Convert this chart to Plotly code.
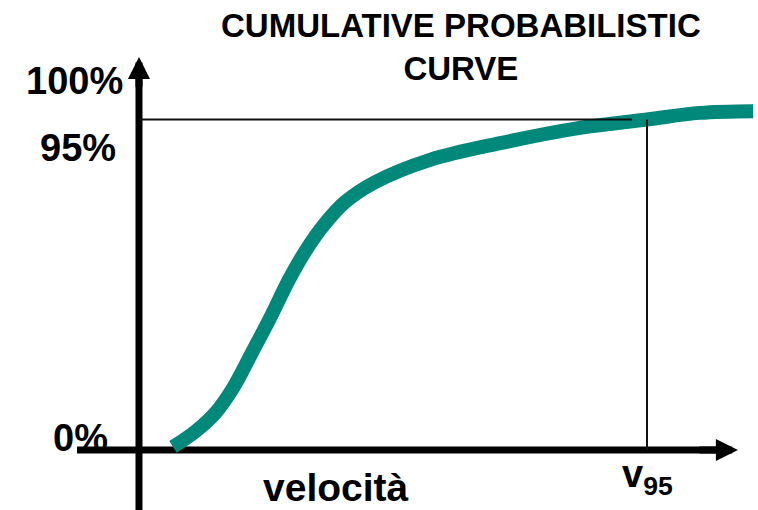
import plotly.graph_objects as go

# Cumulative probability of velocity (velocity in arbitrary units, v95 = 10)
velocity = [0.67, 1.10, 1.50, 1.85, 2.22, 2.60, 2.95, 3.29, 3.64, 4.06,
            4.65, 5.73, 7.11, 8.68, 10.0, 11.04, 12.09]
cum_prob = [0.9, 5.2, 10.6, 17.8, 27.9, 38.5, 48.9, 57.5, 64.7, 71.3,
            77.0, 83.4, 88.2, 92.6, 95.0, 96.9, 97.4]

v95 = 10.0
p95 = 95.0
level_values = [100, 95, 0]
level_labels = ["100%", "95%", "0%"]
x_label = "velocità"
v95_label = "v<sub>95</sub>"
title_text = "CUMULATIVE PROBABILISTIC<br>CURVE"

X_RANGE = [-2.736, 12.185]
Y_RANGE = [-17.25, 129.35]
FONT = "Liberation Sans, Arial, sans-serif"
TEAL = "#00897A"

fig = go.Figure()

# axis shafts (drawn first so the curve sits on top of them)
fig.add_trace(go.Scatter(x=[-1.22, 11.6], y=[0, 0], mode="lines",
                         line=dict(color="black", width=7), hoverinfo="skip"))
fig.add_trace(go.Scatter(x=[0, 0], y=[Y_RANGE[0] - 2, 110], mode="lines",
                         line=dict(color="black", width=7), hoverinfo="skip"))

# cumulative curve
fig.add_trace(go.Scatter(x=velocity, y=cum_prob, mode="lines",
                         line=dict(color=TEAL, width=14, shape="spline"),
                         hoverinfo="skip"))

# 95% reference lines
fig.add_trace(go.Scatter(x=[0, 9.7], y=[p95, p95], mode="lines",
                         line=dict(color="#111111", width=2), hoverinfo="skip"))
fig.add_trace(go.Scatter(x=[v95, v95], y=[p95, 0], mode="lines",
                         line=dict(color="#111111", width=2), hoverinfo="skip"))

# arrow heads
fig.add_annotation(x=11.79, y=0, ax=11.0, ay=0, xref="x", yref="y",
                   axref="x", ayref="y", text="", showarrow=True,
                   arrowhead=2, arrowwidth=7, arrowsize=0.63, arrowcolor="black")
fig.add_annotation(x=0, y=113, ax=0, ay=104, xref="x", yref="y",
                   axref="x", ayref="y", text="", showarrow=True,
                   arrowhead=2, arrowwidth=7, arrowsize=0.63, arrowcolor="black")

# level labels on the vertical axis
label_offsets = {"100%": (-14, 21), "95%": (-21, -28), "0%": (-29, 12)}
for val, lab in zip(level_values, level_labels):
    dx, dy = label_offsets[lab]
    fig.add_annotation(x=0, y=val, xref="x", yref="y", text=lab,
                       showarrow=False, xanchor="right", yanchor="middle",
                       xshift=dx, yshift=dy,
                       font=dict(family=FONT, size=38, color="black", weight="bold"))

# horizontal axis labels
fig.add_annotation(x=3.88, y=0, xref="x", yref="y", text=x_label,
                   showarrow=False, xanchor="center", yanchor="middle",
                   yshift=-38,
                   font=dict(family=FONT, size=39, color="black", weight="bold"))
fig.add_annotation(x=v95, y=0, xref="x", yref="y", text=v95_label,
                   showarrow=False, xanchor="center", yanchor="middle",
                   yshift=-27,
                   font=dict(family=FONT, size=38, color="black", weight="bold"))

# chart title
fig.add_annotation(x=0.608, y=1, xref="paper", yref="paper", text=title_text,
                   showarrow=False, xanchor="center", yanchor="top", yshift=-5,
                   font=dict(family=FONT, size=33, color="black", weight="bold"))

fig.update_layout(
    width=758, height=510,
    margin=dict(l=0, r=0, t=0, b=0),
    paper_bgcolor="white", plot_bgcolor="white",
    showlegend=False,
    xaxis=dict(range=X_RANGE, visible=False, fixedrange=True),
    yaxis=dict(range=Y_RANGE, visible=False, fixedrange=True),
)

fig.write_html("out.html")
